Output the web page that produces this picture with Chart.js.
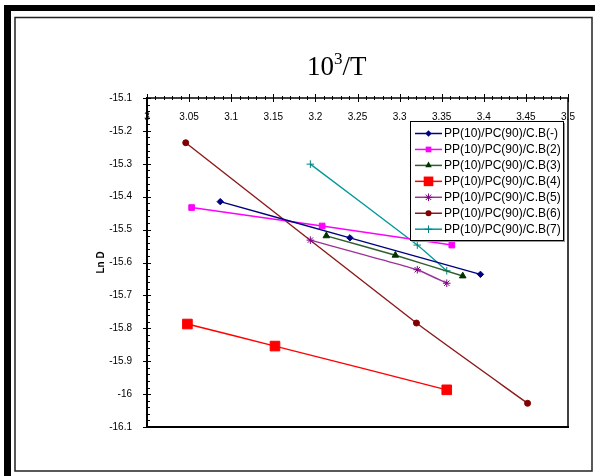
<!DOCTYPE html>
<html>
<head>
<meta charset="utf-8">
<script src="https://cdn.jsdelivr.net/npm/chart.js@4/dist/chart.umd.min.js"></script>
<style>
  html, body { margin: 0; padding: 0; background: #fff; }
  #c { display: block; }
</style>
</head>
<body>
<canvas id="c" width="595" height="476"></canvas>
<script>
// ---- data ----
const seriesNames = [
  'PP(10)/PC(90)/C.B(-)', 'PP(10)/PC(90)/C.B(2)', 'PP(10)/PC(90)/C.B(3)',
  'PP(10)/PC(90)/C.B(4)', 'PP(10)/PC(90)/C.B(5)', 'PP(10)/PC(90)/C.B(6)',
  'PP(10)/PC(90)/C.B(7)'
];
const x1 = [3.087, 3.241, 3.396];  const y1 = [-15.415, -15.525, -15.636];
const x2 = [3.053, 3.208, 3.362];  const y2 = [-15.433, -15.489, -15.547];
const x3 = [3.213, 3.295, 3.375];  const y3 = [-15.519, -15.578, -15.641];
const x4 = [3.048, 3.152, 3.356];  const y4 = [-15.787, -15.854, -15.987];
const x5 = [3.194, 3.321, 3.356];  const y5 = [-15.532, -15.622, -15.663];
const x6 = [3.046, 3.320, 3.452];  const y6 = [-15.236, -15.784, -16.028];
const x7 = [3.194, 3.321, 3.356];  const y7 = [-15.301, -15.547, -15.625];

const xTickValues = [3, 3.05, 3.1, 3.15, 3.2, 3.25, 3.3, 3.35, 3.4, 3.45, 3.5];
const xTickLabels = ['3', '3.05', '3.1', '3.15', '3.2', '3.25', '3.3', '3.35', '3.4', '3.45', '3.5'];
const yTickValues = [-16.1, -16, -15.9, -15.8, -15.7, -15.6, -15.5, -15.4, -15.3, -15.2, -15.1];
const yTickLabels = ['-16.1', '-16', '-15.9', '-15.8', '-15.7', '-15.6', '-15.5', '-15.4', '-15.3', '-15.2', '-15.1'];
const titleBase = '10', titleSup = '3', titleRest = '/T';
const yAxisTitle = 'Ln D';

// ---- styles ----
const styles = [
  { line: '#000080', fill: '#000080', shape: 'rectRot',  r: 3.2 },
  { line: '#ff00ff', fill: '#ff00ff', shape: 'rect',     r: 4.0 },
  { line: '#2f5f2f', fill: '#003300', shape: 'triangle', r: 3.8 },
  { line: '#ff0000', fill: '#ff0000', shape: 'rect',     r: 6.8 },
  { line: '#993399', fill: '#800080', shape: 'star',     r: 3.8 },
  { line: '#8b1a1a', fill: '#800000', shape: 'circle',   r: 3.0 },
  { line: '#009999', fill: '#008080', shape: 'cross',    r: 3.8 }
];
const xs = [x1, x2, x3, x4, x5, x6, x7];
const ys = [y1, y2, y3, y4, y5, y6, y7];

const datasets = seriesNames.map((name, i) => ({
  label: name,
  data: xs[i].map((x, j) => ({ x: x, y: ys[i][j] })),
  showLine: true,
  borderColor: styles[i].line,
  borderWidth: 1.4,
  tension: 0.15,
  pointStyle: styles[i].shape,
  pointRadius: styles[i].r,
  pointHoverRadius: styles[i].r,
  pointBackgroundColor: styles[i].fill,
  pointBorderColor: styles[i].fill,
  pointBorderWidth: 1
}));

function drawMarker(ctx, shape, r, x, y, color) {
  ctx.save();
  ctx.fillStyle = color; ctx.strokeStyle = color; ctx.lineWidth = 1;
  ctx.beginPath();
  if (shape === 'rect') {
    const s = r * Math.SQRT1_2;
    ctx.rect(x - s, y - s, 2 * s, 2 * s); ctx.fill();
  } else if (shape === 'rectRot') {
    ctx.moveTo(x, y - r); ctx.lineTo(x + r, y); ctx.lineTo(x, y + r); ctx.lineTo(x - r, y);
    ctx.closePath(); ctx.fill();
  } else if (shape === 'triangle') {
    ctx.moveTo(x, y - r); ctx.lineTo(x + r * 0.866, y + r * 0.5); ctx.lineTo(x - r * 0.866, y + r * 0.5);
    ctx.closePath(); ctx.fill();
  } else if (shape === 'circle') {
    ctx.arc(x, y, r, 0, Math.PI * 2); ctx.fill();
  } else if (shape === 'cross') {
    ctx.moveTo(x - r, y); ctx.lineTo(x + r, y); ctx.moveTo(x, y - r); ctx.lineTo(x, y + r); ctx.stroke();
  } else if (shape === 'star') {
    ctx.moveTo(x - r, y); ctx.lineTo(x + r, y); ctx.moveTo(x, y - r); ctx.lineTo(x, y + r);
    const d = r * 0.707;
    ctx.moveTo(x - d, y - d); ctx.lineTo(x + d, y + d); ctx.moveTo(x - d, y + d); ctx.lineTo(x + d, y - d);
    ctx.stroke();
  }
  ctx.restore();
}

const decor = {
  id: 'decor',
  beforeDraw(chart) {
    const ctx = chart.ctx;
    ctx.save();
    ctx.fillStyle = '#fff';
    ctx.fillRect(0, 0, chart.width, chart.height);
    // outer thick frame (left and top)
    ctx.fillStyle = '#000';
    ctx.fillRect(4, 5, 7, 471);
    ctx.fillRect(4, 5, 591, 6);
    // inner thin frame
    ctx.strokeStyle = '#222';
    ctx.lineWidth = 1.5;
    ctx.strokeRect(15, 17.5, 577, 453.5);
    ctx.restore();
  },
  afterDatasetsDraw(chart) {
    const ctx = chart.ctx;
    const a = chart.chartArea;
    const xs_ = chart.scales.x, ys_ = chart.scales.y;
    ctx.save();
    ctx.strokeStyle = '#000';
    // plot frame
    ctx.lineWidth = 1.5;
    ctx.beginPath(); ctx.moveTo(a.left, a.top); ctx.lineTo(a.right, a.top); ctx.stroke();
    ctx.beginPath(); ctx.moveTo(a.right, a.top); ctx.lineTo(a.right, a.bottom); ctx.stroke();
    ctx.lineWidth = 2;
    ctx.beginPath(); ctx.moveTo(a.left, a.top - 1); ctx.lineTo(a.left, a.bottom + 1); ctx.stroke();
    ctx.beginPath(); ctx.moveTo(a.left - 1, a.bottom); ctx.lineTo(a.right + 1, a.bottom); ctx.stroke();
    // ticks on x axis (top)
    ctx.lineWidth = 1;
    for (let k = 0; k <= 50; k++) {
      const v = 3 + k * 0.01;
      const px = Math.round(xs_.getPixelForValue(v)) + 0.5;
      ctx.beginPath();
      if (k % 5 === 0) { ctx.moveTo(px, a.top - 4); ctx.lineTo(px, a.top + 4); }
      else { ctx.moveTo(px, a.top - 2); ctx.lineTo(px, a.top + 2); }
      ctx.stroke();
    }
    // ticks on y axis (left)
    for (let k = 0; k <= 50; k++) {
      const v = -16.1 + k * 0.02;
      const py = Math.round(ys_.getPixelForValue(v)) + 0.5;
      ctx.beginPath();
      if (k % 5 === 0) { ctx.moveTo(a.left - 4, py); ctx.lineTo(a.left + 4, py); }
      else { ctx.moveTo(a.left, py); ctx.lineTo(a.left + 3, py); }
      ctx.stroke();
    }
    ctx.restore();
  },
  afterDraw(chart) {
    const ctx = chart.ctx;
    ctx.save();
    // title 10^3/T
    ctx.fillStyle = '#000';
    ctx.textBaseline = 'alphabetic';
    ctx.textAlign = 'left';
    const big = '27px "Liberation Serif", "Times New Roman", serif';
    const small = '17px "Liberation Serif", "Times New Roman", serif';
    let tx = 307, ty = 75;
    ctx.font = big; ctx.fillText(titleBase, tx, ty); tx += ctx.measureText(titleBase).width;
    ctx.font = small; ctx.fillText(titleSup, tx, ty - 11); tx += ctx.measureText(titleSup).width;
    ctx.font = big; ctx.fillText(titleRest, tx, ty);
    // legend
    const lx = 410, ly = 121, lw = 153, lh = 119;
    ctx.fillStyle = '#999';
    ctx.fillRect(lx + 2, ly + 2, lw, lh);
    ctx.fillStyle = '#fff';
    ctx.fillRect(lx, ly, lw, lh);
    ctx.strokeStyle = '#000'; ctx.lineWidth = 1;
    ctx.strokeRect(lx + 0.5, ly + 0.5, lw, lh);
    ctx.font = '12px "Liberation Sans", Arial, sans-serif';
    ctx.textBaseline = 'middle';
    chart.data.datasets.forEach((ds, i) => {
      const y = 133.5 + i * 15.95;
      ctx.strokeStyle = styles[i].line; ctx.lineWidth = 1.5;
      ctx.beginPath(); ctx.moveTo(415, y); ctx.lineTo(442, y); ctx.stroke();
      drawMarker(ctx, styles[i].shape, styles[i].r, 428.5, y, styles[i].fill);
      ctx.fillStyle = '#000';
      ctx.fillText(ds.label, 444, y + 0.5);
    });
    ctx.restore();
  }
};

new Chart(document.getElementById('c'), {
  type: 'scatter',
  data: { datasets: datasets },
  plugins: [decor],
  options: {
    responsive: false,
    animation: false,
    events: [],
    layout: { padding: { left: 0, top: 98, right: 27, bottom: 49 } },
    plugins: { legend: { display: false }, title: { display: false }, tooltip: { enabled: false } },
    scales: {
      x: {
        type: 'linear', position: 'top', min: 3, max: 3.5, z: 1,
        grid: { display: false },
        border: { display: false },
        afterFit: (s) => { s.height = 0; },
        afterBuildTicks: (s) => { s.ticks = xTickValues.map(v => ({ value: v })); },
        ticks: {
          mirror: true, padding: 13, autoSkip: false, maxRotation: 0, color: '#000',
          font: { family: '"Liberation Sans", Arial, sans-serif', size: 10 },
          callback: (v, i) => xTickLabels[i]
        }
      },
      y: {
        type: 'linear', min: -16.1, max: -15.1, z: 1,
        grid: { display: false },
        border: { display: false },
        afterFit: (s) => { s.width = 147; },
        afterBuildTicks: (s) => { s.ticks = yTickValues.map(v => ({ value: v })); },
        ticks: {
          padding: 7, autoSkip: false, color: '#000',
          font: { family: '"Liberation Sans", Arial, sans-serif', size: 10 },
          callback: (v, i) => yTickLabels[i]
        },
        title: {
          display: true, text: yAxisTitle, color: '#000',
          padding: { top: 95, bottom: 0 },
          font: { family: '"Liberation Sans", Arial, sans-serif', size: 10, weight: 'bold' }
        }
      }
    }
  }
});
</script>
</body>
</html>
